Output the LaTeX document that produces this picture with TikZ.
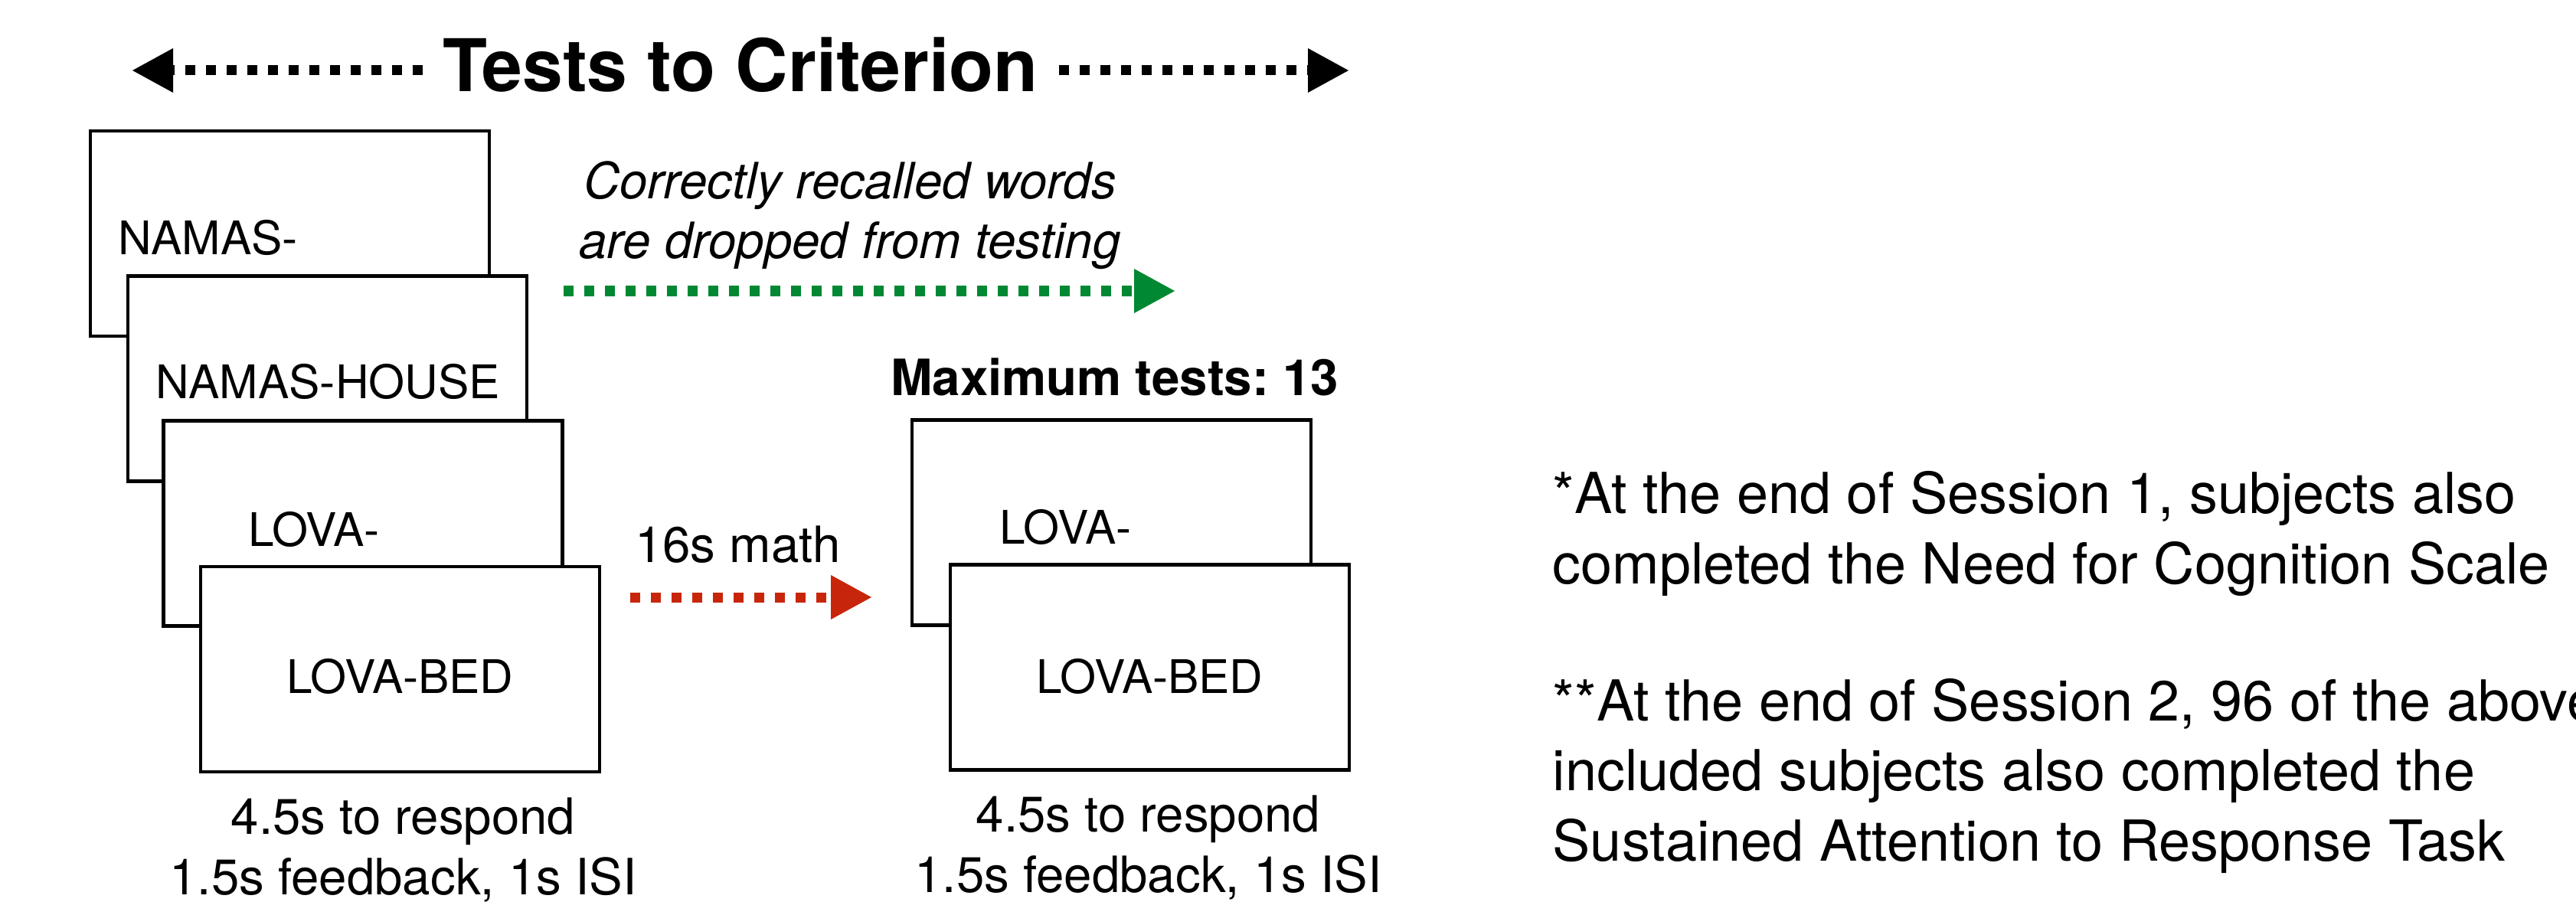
\documentclass[tikz,border=0pt]{standalone}
\usepackage{fontspec}
\setmainfont{TeX Gyre Heros}
\usepackage{tikz}
\usetikzlibrary{arrows.meta,positioning}
\definecolor{dropgreen}{RGB}{0,136,50}
\definecolor{mathred}{RGB}{200,38,10}
\frenchspacing

\begin{document}
\begin{tikzpicture}[
		card/.style={draw, line width=1.2pt, fill=white, minimum width=5.21cm, minimum height=2.68cm, inner sep=0},
		word/.style={font=\fontsize{17.2}{20}\selectfont, inner sep=0},
		txt/.style={font=\fontsize{18.6}{22.4}\selectfont, inner sep=0, align=center},
		bold/.style={font=\fontsize{18.6}{22.4}\selectfont\bfseries, inner sep=0},
		note/.style={font=\fontsize{21}{25.9}\selectfont, inner sep=0, align=left},
		dotarrow/.style={line width=0.13cm, dash pattern=on 0.13cm off 0.14cm, -{Triangle[length=0.54cm,width=0.54cm]}}
	]
		\useasboundingbox (0,0) rectangle (33.64,11.77);

		%% Title with arrows on both sides
		\node[font=\fontsize{27}{32}\selectfont\bfseries, inner xsep=0.26cm, inner ysep=0, anchor=base] (title) at (9.67,10.57) {Tests to Criterion};
		\coordinate (tl) at (1.72,10.85);
		\coordinate (tr) at (17.62,10.85);
		\draw[dotarrow] (title.west |- tl) -- (tl);
		\draw[dotarrow] (title.east |- tr) -- (tr);

		% first round of tests
		\node[card] (b1) at (3.785,8.72) {};
		\node[word, anchor=base west] (w1) at ([shift={(0.38,-0.28)}]b1.west) {NAMAS-};
		\node[card] (b2) at ([shift={(0.49,-1.895)}]b1) {};
		\node[word, anchor=base west] (w2) at ([shift={(0.38,-0.255)}]b2.west) {NAMAS-HOUSE};
		\node[card] (b3) at ([shift={(0.465,-1.89)}]b2) {};
		\node[word, anchor=base west] (w3) at ([shift={(1.12,-0.295)}]b3.west) {LOVA-};
		\node[card] (b4) at ([shift={(0.485,-1.905)}]b3) {};
		\node[word, anchor=base] (w4) at ([yshift=-0.31cm]b4.center) {LOVA-BED};
		\node[txt, anchor=base] (t1) at ([shift={(0.04,-1.58)}]b4.south) {4.5s to respond\\1.5s feedback, 1s ISI};

		% dropped words
		\node[txt, font=\fontsize{18.6}{22.4}\selectfont\itshape, anchor=base] (drop) at (11.10,8.39) {Correctly recalled words\\are dropped from testing};
		\coordinate (g0) at (7.36,7.97);
		\coordinate (g1) at (15.35,7.97);
		\draw[dotarrow, dropgreen] (g0) -- (g1);

		% math distractor
		\node[txt, anchor=base] (math) at (9.635,4.43) {16s math};
		\coordinate (r0) at (8.23,3.97);
		\coordinate (r1) at (11.39,3.97);
		\draw[dotarrow, mathred] (r0) -- (r1);

		% later rounds
		\node[card] (bA) at (14.515,4.945) {};
		\node[word, anchor=base west] (wA) at ([shift={(1.16,-0.275)}]bA.west) {LOVA-};
		\node[card] (bB) at ([shift={(0.5,-1.89)}]bA) {};
		\node[word, anchor=base] (wB) at ([yshift=-0.335cm]bB.center) {LOVA-BED};
		\node[bold, anchor=base] (maxtests) at ([shift={(0.04,0.30)}]bA.north) {Maximum tests: 13};
		\node[txt, anchor=base] (t2) at ([shift={(-0.02,-1.58)}]bB.south) {4.5s to respond\\1.5s feedback, 1s ISI};

		% footnotes
		\node[note, anchor=base west] (n1) at (20.27,4.15) {*At the end of Session 1, subjects also\\completed the Need for Cognition Scale};
		\node[note, anchor=base west] (n2) at (20.27,0.53) {**At the end of Session 2, 96 of the above\\included subjects also completed the\\Sustained Attention to Response Task};
	\end{tikzpicture}
\end{document}
